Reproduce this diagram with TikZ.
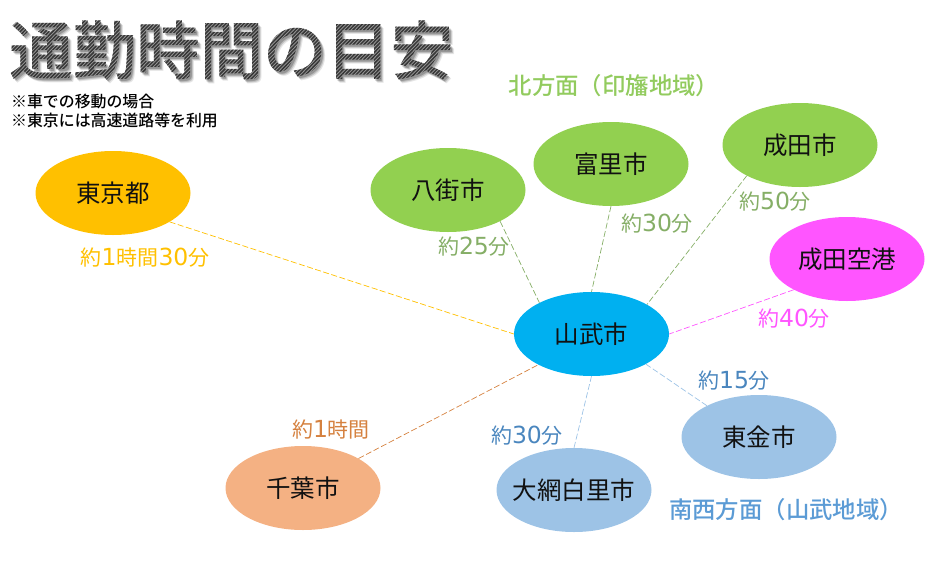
\documentclass[tikz,border=0pt]{standalone}
\usepackage{fontspec}
\setmainfont{Noto Sans CJK JP}
\newfontfamily\medfont{Noto Sans CJK JP Medium}
\newfontfamily\latinwide[Scale=1.12]{DejaVu Sans}
\usetikzlibrary{shapes.geometric}
\definecolor{cyell}{HTML}{FFC000}
\definecolor{cgreen}{HTML}{92D050}
\definecolor{cgreenh}{HTML}{92CB5E}
\definecolor{cgreent}{HTML}{85AE66}
\definecolor{ccyan}{HTML}{00B0F0}
\definecolor{cmag}{HTML}{FF55FF}
\definecolor{cblue}{HTML}{9DC3E6}
\definecolor{cbluet}{HTML}{4A86BE}
\definecolor{cblueh}{HTML}{5B9BD5}
\definecolor{corg}{HTML}{F4B183}
\definecolor{corgt}{HTML}{D5813F}
\definecolor{ctext}{HTML}{111111}
\newcommand{\dg}[1]{{\latinwide #1}}
\tikzset{
  place/.style={ellipse,fill=#1,draw=none,minimum width=155pt,minimum height=84pt,inner sep=0pt,font=\fontsize{24.5}{25}\selectfont,text=ctext},
  tlabel/.style={inner sep=0pt,font=\fontsize{21}{22}\selectfont,text=#1},
  conn/.style={draw=#1,dashed,line width=0.7pt,dash pattern=on 6pt off 2.5pt},
  note/.style={inner sep=0pt,anchor=west,font=\medfont\fontsize{15.9}{16}\selectfont,text=black},
  region/.style={inner sep=0pt,font=\medfont\fontsize{23.4}{24}\selectfont,text=#1},
}
\newcommand{\titletext}{\medfont\fontsize{63.5}{64}\selectfont 通勤時間の目安}
\begin{document}
\begin{tikzpicture}[x=1pt,y=-1pt]
\useasboundingbox (0,0) rectangle (951,563);
% title shadow
\foreach \d/\o in {4/0.10,3/0.16,2/0.22}{
  \node[anchor=base west,inner sep=0pt,text=black,opacity=\o] (ts\d) at (9+\d,74+\d) {\titletext};
}
% title with stripes clipped to the glyphs
\node[anchor=base west,inner sep=0pt] (title) at (9,74) {%
  \special{pdf:code q}%
  \rlap{\special{pdf:code 7 Tr}\titletext}%
  \special{pdf:code 0 Tr}%
  \begin{tikzpicture}[x=1pt,y=1pt,baseline=0pt]
    \useasboundingbox (0,0) rectangle (455,1);
    \fill[black!40] (0,-14) rectangle (455,62);
    \foreach \s in {0,3.6,...,540}{
      \draw[black!78,line width=1.5pt] (\s-80,-14) -- (\s,68);
    }
  \end{tikzpicture}%
  \special{pdf:code Q}%
};
\node[note] (n1) at (11,102) {※車での移動の場合};
\node[note] (n2) at (11,120) {※東京には高速道路等を利用};
\node[region=cgreenh] (north) at (614,86) {北方面（印旛地域）};
\node[region=cblueh] (south) at (786,510) {南西方面（山武地域）};
\node[place=cyell] (tokyo) at (113,193) {東京都};
\node[place=cgreen] (yachi) at (448,190) {八街市};
\node[place=cgreen] (tomi) at (611,164) {富里市};
\node[place=cgreen] (nari) at (800,145) {成田市};
\node[place=cmag] (apt) at (847,259) {\makebox[0pt]{成田空港}};
\node[place=ccyan] (sanmu) at (591.5,334) {山武市};
\node[place=cblue] (togane) at (759,437) {東金市};
\node[place=cblue] (oami) at (574,490) {\makebox[0pt]{大網白里市}};
\node[place=corg] (chiba) at (303,488) {千葉市};
\draw[conn=cyell] (tokyo.-27) -- (sanmu.180);
\draw[conn=cgreent] (yachi.-31) -- (sanmu.149);
\draw[conn=cgreent] (tomi.-90) -- (sanmu.90);
\draw[conn=cgreent] (nari.210) -- (sanmu.28);
\draw[conn=cmag] (apt.210) -- (sanmu.0);
\draw[conn=cblue] (togane.149) -- (sanmu.-29);
\draw[conn=cblue] (oami.90) -- (sanmu.-90);
\draw[conn=corgt] (chiba.28) -- (sanmu.210);
\node[tlabel=cyell] (l1) at (145,258) {約\dg{1}時間\dg{30}分};
\node[tlabel=cgreent] (l2) at (474,247) {約\dg{25}分};
\node[tlabel=cgreent] (l3) at (657,224) {約\dg{30}分};
\node[tlabel=cgreent] (l4) at (775,202) {約\dg{50}分};
\node[tlabel=cmag] (l5) at (794,319) {約\dg{40}分};
\node[tlabel=cbluet] (l6) at (734,381) {約\dg{15}分};
\node[tlabel=cbluet] (l7) at (527,436) {約\dg{30}分};
\node[tlabel=corgt] (l8) at (331,430) {約\dg{1}時間};
\end{tikzpicture}
\end{document}
